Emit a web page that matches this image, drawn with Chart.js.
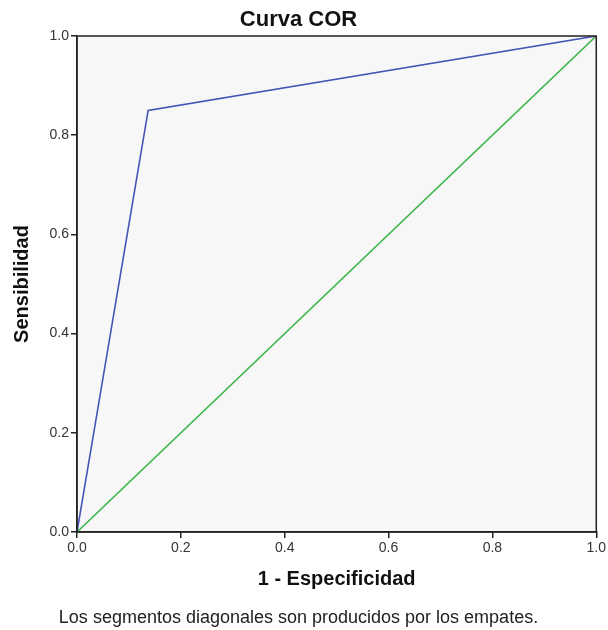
<!DOCTYPE html>
<html>
<head>
<meta charset="utf-8">
<script src="https://cdn.jsdelivr.net/npm/chart.js@4"></script>
<style>
  body { margin: 0; background: #fff; }
  canvas { display: block; }
</style>
</head>
<body>
<canvas id="rocChart" width="608" height="630"></canvas>
<script>
// datos de la curva COR
const unoMenosEspecificidad = [0, 0.137, 1];
const sensibilidad = [0, 0.85, 1];
const refX = [0, 1];
const refY = [0, 1];
const tickValues = [0, 0.2, 0.4, 0.6, 0.8, 1.0];

function puntos(xs, ys) {
  return xs.map((x, i) => ({ x: x, y: ys[i] }));
}

// fondo gris y marco del área de trazado
const marcoPlugin = {
  id: 'marco',
  beforeDraw(chart) {
    const a = chart.chartArea, c = chart.ctx;
    c.save();
    c.fillStyle = '#f7f7f7';
    c.fillRect(a.left, a.top, a.right - a.left, a.bottom - a.top);
    c.restore();
  },
  afterDatasetsDraw(chart) {
    const a = chart.chartArea, c = chart.ctx;
    c.save();
    c.strokeStyle = '#222';
    c.lineWidth = 1.5;
    c.strokeRect(a.left, a.top, a.right - a.left, a.bottom - a.top);
    c.restore();
  }
};

const ctx = document.getElementById('rocChart').getContext('2d');
const rocChart = new Chart(ctx, {
  type: 'scatter',
  data: {
    datasets: [
      {
        data: puntos(unoMenosEspecificidad, sensibilidad),
        showLine: true,
        borderColor: '#4354b4',
        borderWidth: 1.6,
        pointRadius: 0,
        tension: 0
      },
      {
        data: puntos(refX, refY),
        showLine: true,
        borderColor: '#3bb54a',
        borderWidth: 1.6,
        pointRadius: 0,
        tension: 0
      }
    ]
  },
  plugins: [marcoPlugin],
  options: {
    responsive: false,
    animation: false,
    layout: { padding: { left: 0, right: 11, top: 0, bottom: 0 } },
    scales: {
      x: {
        type: 'linear', min: 0, max: 1,
        afterBuildTicks: s => { s.ticks = tickValues.map(v => ({ value: v })); },
        afterFit: s => { s.height = 71.2; },
        grid: { display: true, drawOnChartArea: false, drawTicks: true, tickLength: 6, color: '#222', lineWidth: 1.5 },
        border: { display: true, color: '#222', width: 1.5 },
        ticks: { color: '#333', padding: 2, font: { family: 'Liberation Sans', size: 14 }, callback: v => v.toFixed(1) },
        title: { display: true, text: '1 - Especificidad', color: '#111', padding: { top: 0, bottom: 12 }, font: { family: 'Liberation Sans', size: 20, weight: 'bold' } }
      },
      y: {
        type: 'linear', min: 0, max: 1,
        afterBuildTicks: s => { s.ticks = tickValues.map(v => ({ value: v })); },
        afterFit: s => { s.width = 77; },
        grid: { display: true, drawOnChartArea: false, drawTicks: true, tickLength: 6, color: '#222', lineWidth: 1.5 },
        border: { display: true, color: '#222', width: 1.5 },
        ticks: { color: '#333', padding: 2, font: { family: 'Liberation Sans', size: 14 }, callback: v => v.toFixed(1) },
        title: { display: true, text: 'Sensibilidad', color: '#111', padding: 10, font: { family: 'Liberation Sans', size: 20, weight: 'bold' } }
      }
    },
    plugins: {
      legend: { display: false },
      tooltip: { enabled: false },
      title: {
        display: true, text: 'Curva COR', color: '#111',
        padding: { top: 7, bottom: 2.6 },
        font: { family: 'Liberation Sans', size: 22, weight: 'bold' }
      },
      subtitle: {
        display: true, position: 'bottom',
        text: 'Los segmentos diagonales son producidos por los empates.',
        color: '#222',
        padding: { top: 4, bottom: 1.2 },
        font: { family: 'Liberation Sans', size: 18, weight: 'normal' }
      }
    }
  }
});
</script>
</body>
</html>
